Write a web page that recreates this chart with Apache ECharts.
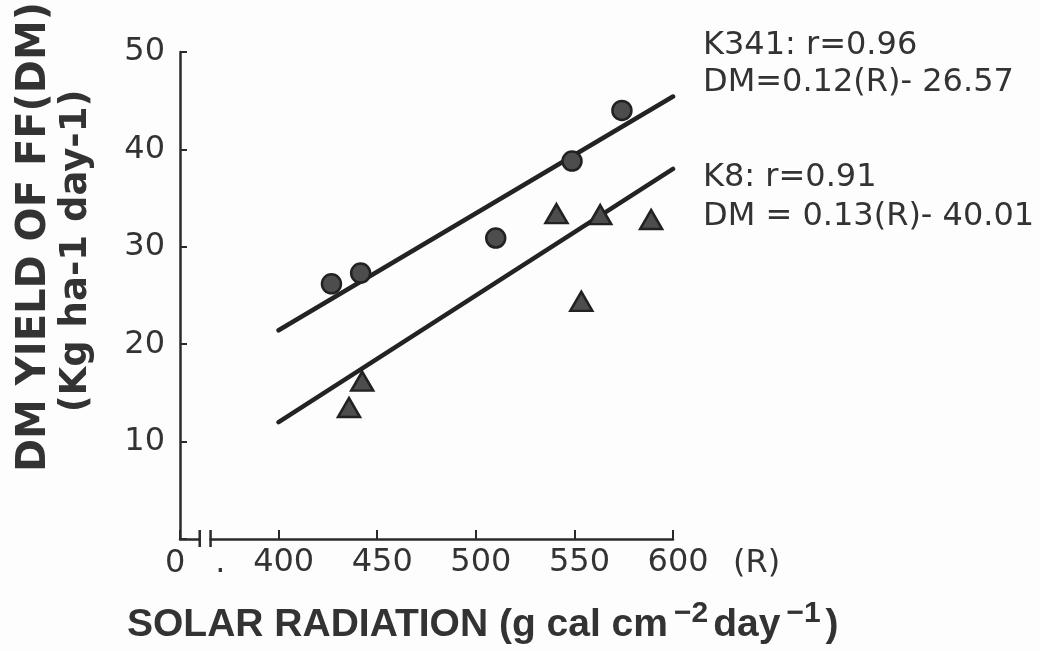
<!DOCTYPE html>
<html>
<head>
<meta charset="UTF-8">
<title>DM yield vs solar radiation</title>
<script src="https://cdn.jsdelivr.net/npm/echarts@6/dist/echarts.min.js"></script>
<style>
  html, body { margin: 0; padding: 0; background: #fdfdfd; }
  #main { width: 1040px; height: 651px; }
</style>
</head>
<body>
<div id="main"></div>
<script type="text/javascript">
    // values
    var k341Points = [[426.8, 26.2], [441.6, 27.3], [510.1, 30.9], [548.8, 38.8], [574.1, 44.0]];
    var k8Points = [[435.7, 13.5], [442.4, 16.2], [540.9, 33.4], [553.5, 24.4], [563.1, 33.3], [588.9, 32.8]];
    var k341Line = [[400, 21.43], [600, 45.43]];
    var k8Line = [[400, 11.99], [600, 37.99]];
    var xTickValues = [400, 450, 500, 550, 600];
    var yTickValues = [10, 20, 30, 40, 50];

    var ink = '#2a2a2a';
    var textInk = '#333';
    var numFont = 'DejaVu Sans';

    var myChart = echarts.init(document.getElementById('main'));

    function txt(x, y, text, extra) {
        return {
            type: 'text', x: x, y: y, silent: true,
            style: Object.assign({
                text: text, fontSize: 32, fontFamily: numFont, fill: textInk,
                align: 'left', verticalAlign: 'middle',
                textAlign: 'left', textVerticalAlign: 'middle'
            }, extra || {})
        };
    }

    var option = {
        backgroundColor: '#fdfdfd',
        animation: false,
        grid: { left: 180, right: 367, top: 52, bottom: 112 },
        xAxis: {
            type: 'value', min: 350, max: 600, interval: 50,
            axisLine: { onZero: false, lineStyle: { color: ink, width: 2.5 } },
            axisTick: { inside: true, length: 9, lineStyle: { color: ink, width: 2 } },
            splitLine: { show: false },
            axisLabel: {
                fontSize: 32, fontFamily: numFont, color: textInk, margin: 8,
                formatter: function (v) { return xTickValues.indexOf(v) >= 0 ? ' ' + v : ''; }
            }
        },
        yAxis: {
            type: 'value', min: 0, max: 50, interval: 10,
            axisLine: { show: true, onZero: false, lineStyle: { color: ink, width: 2.5 } },
            axisTick: { show: true, inside: true, length: 7, lineStyle: { color: ink, width: 2 } },
            splitLine: { show: false },
            axisLabel: {
                fontSize: 32, fontFamily: numFont, color: textInk, margin: 15,
                formatter: function (v) { return yTickValues.indexOf(v) >= 0 ? String(v) : ''; }
            }
        },
        series: [
            {
                name: 'K341 fit', type: 'line', data: k341Line, symbol: 'none',
                lineStyle: { color: '#232323', width: 4.5, cap: 'round' }, z: 2
            },
            {
                name: 'K8 fit', type: 'line', data: k8Line, symbol: 'none',
                lineStyle: { color: '#232323', width: 4.5, cap: 'round' }, z: 2
            },
            {
                name: 'K341', type: 'scatter', data: k341Points, symbol: 'circle', symbolSize: 19,
                itemStyle: { color: '#4d4d4d', borderColor: '#222', borderWidth: 2.5, opacity: 1 }, z: 3
            },
            {
                name: 'K8', type: 'scatter', data: k8Points, symbol: 'triangle', symbolSize: [22, 19],
                itemStyle: { color: '#4d4d4d', borderColor: '#222', borderWidth: 2.5, opacity: 1 }, z: 3
            }
        ]
    };
    myChart.setOption(option);

    // axis break marks, origin "0", "(R)", titles and regression notes
    var p0 = myChart.convertToPixel('grid', [360, 0]);
    var p1 = myChart.convertToPixel('grid', [365.5, 0]);
    var pZero = myChart.convertToPixel('grid', [347.5, 0]);
    var pDot = myChart.convertToPixel('grid', [370.5, 0]);
    var pEnd = myChart.convertToPixel('grid', [600, 0]);

    myChart.setOption({
        graphic: [
            { type: 'rect', shape: { x: p0[0] + 1, y: p0[1] - 4, width: p1[0] - p0[0] - 2, height: 8 },
              style: { fill: '#fdfdfd' }, z: 10, silent: true },
            { type: 'line', shape: { x1: p0[0], y1: p0[1] - 9, x2: p0[0], y2: p0[1] + 8 },
              style: { stroke: ink, lineWidth: 2.5 }, z: 11, silent: true },
            { type: 'line', shape: { x1: p1[0], y1: p1[1] - 9, x2: p1[0], y2: p1[1] + 8 },
              style: { stroke: ink, lineWidth: 2.5 }, z: 11, silent: true },
            txt(pZero[0], pZero[1] + 25, '0', { align: 'center', textAlign: 'center' }),
            txt(pDot[0], pDot[1] + 25, '.', { align: 'center', textAlign: 'center' }),
            txt(pEnd[0] + 60, pEnd[1] + 25, '(R)'),

            txt(703, 46, 'K341: r=0.96'),
            txt(703, 83, 'DM=0.12(R)- 26.57'),
            txt(703, 178, 'K8: r=0.91'),
            txt(703, 217, 'DM = 0.13(R)- 40.01'),

            {
                type: 'text', x: 35, y: 237, rotation: Math.PI / 2, silent: true,
                style: {
                    text: 'DM YIELD OF FF(DM)', fontSize: 40, fontWeight: 'bold', fontFamily: numFont,
                    fill: '#333', align: 'center', verticalAlign: 'middle',
                    textAlign: 'center', textVerticalAlign: 'middle'
                }
            },
            {
                type: 'text', x: 76, y: 251, rotation: Math.PI / 2, silent: true,
                style: {
                    text: '(Kg ha-1 day-1)', fontSize: 37, fontWeight: 'bold', fontFamily: numFont,
                    fill: '#333', align: 'center', verticalAlign: 'middle',
                    textAlign: 'center', textVerticalAlign: 'middle'
                }
            },
            {
                type: 'text', x: 127, y: 622, silent: true,
                style: {
                    text: '{a|SOLAR RADIATION (g cal cm}{s|−2}{a|day}{s|−1}{a|)}',
                    fill: '#333', align: 'left', verticalAlign: 'middle',
                    textAlign: 'left', textVerticalAlign: 'middle',
                    rich: {
                        a: { fontSize: 39, fontWeight: 'bold', fontFamily: 'Liberation Sans', fill: '#333',
                             lineHeight: 46, verticalAlign: 'bottom' },
                        s: { fontSize: 30, fontWeight: 'bold', fontFamily: 'Liberation Sans', fill: '#333',
                             lineHeight: 46, verticalAlign: 'top', padding: [0, 5, 0, 6] }
                    }
                }
            }
        ]
    });
</script>
</body>
</html>
